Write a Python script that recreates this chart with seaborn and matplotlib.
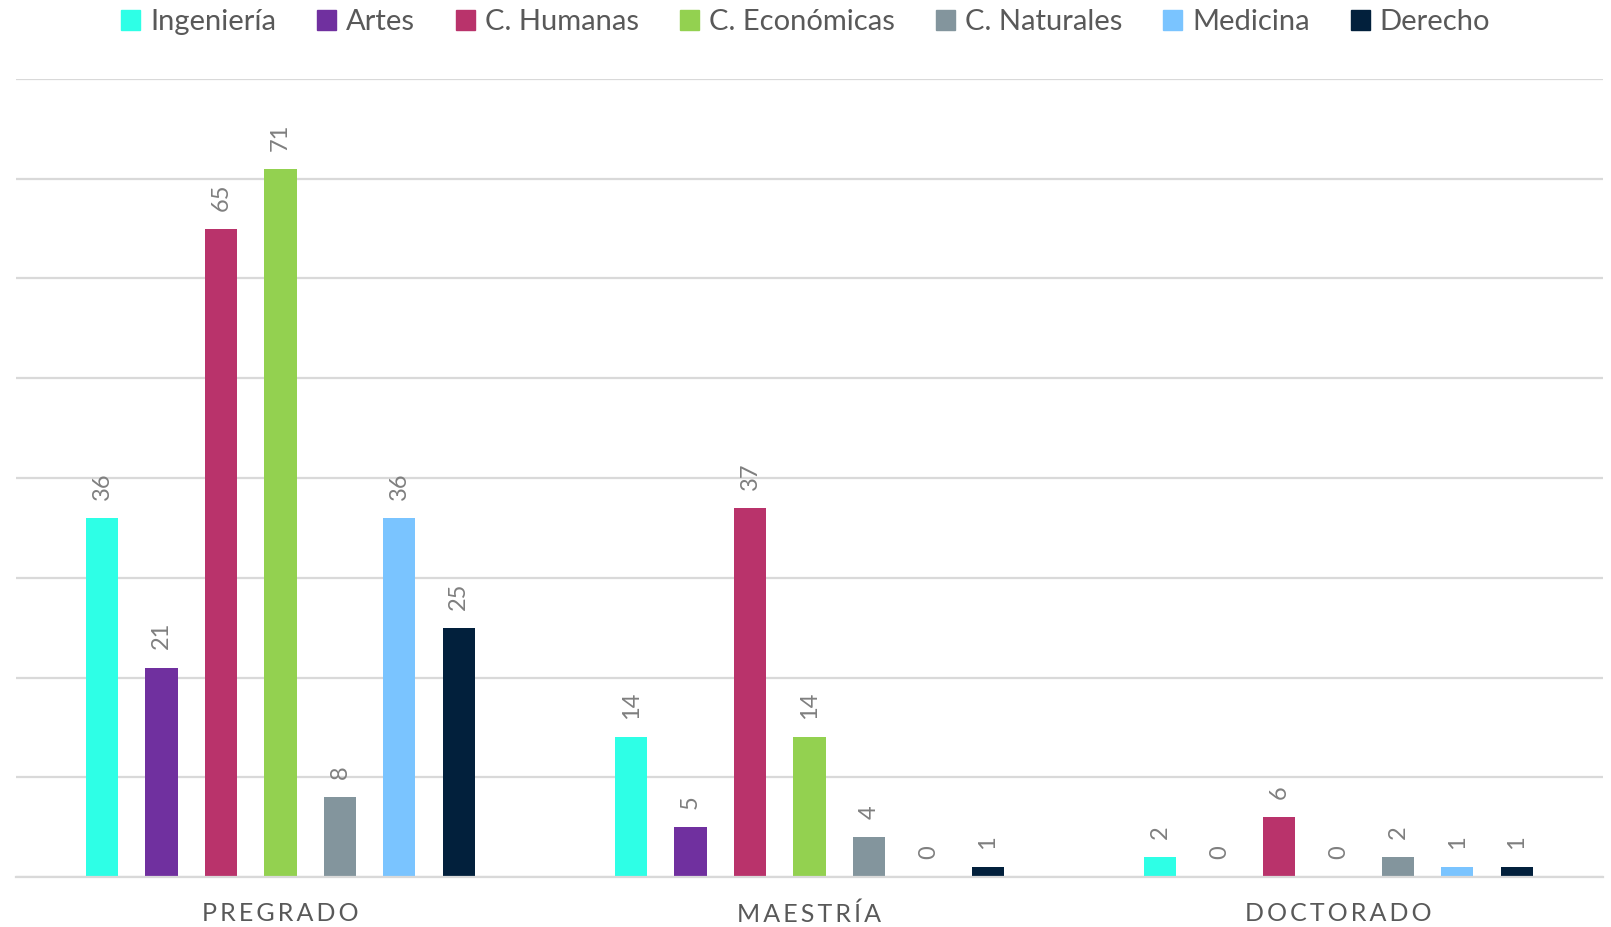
import numpy as np
import pandas as pd
import matplotlib
matplotlib.use("Agg")
import matplotlib.pyplot as plt
import seaborn as sns

# data
niveles = ["PREGRADO", "MAESTRÍA", "DOCTORADO"]
facultades = ["Ingeniería", "Artes", "C. Humanas", "C. Económicas",
              "C. Naturales", "Medicina", "Derecho"]
ingenieria = [36, 14, 2]
artes = [21, 5, 0]
humanas = [65, 37, 6]
economicas = [71, 14, 0]
naturales = [8, 4, 2]
medicina = [36, 0, 1]
derecho = [25, 1, 1]
colores = ["#2EFFE6", "#70309F", "#B9336B", "#93D150",
           "#83959D", "#7AC4FF", "#02203C"]

series = [ingenieria, artes, humanas, economicas, naturales, medicina, derecho]
rows = []
for fac, vals in zip(facultades, series):
    for niv, v in zip(niveles, vals):
        rows.append({"Nivel": niv, "Facultad": fac, "Valor": v})
df = pd.DataFrame(rows)

sns.set_theme(style="white")
plt.rcParams['font.family'] = ['Lato', 'DejaVu Sans']

fig = plt.figure(figsize=(16.11, 9.27), dpi=100)
ax = fig.add_axes([0.0099, 0.0539, 0.9851, 0.8609])

sns.barplot(data=df, x="Nivel", y="Valor", hue="Facultad",
            order=niveles, hue_order=facultades, palette=colores,
            width=0.787, gap=0.46, linewidth=0, saturation=1,
            errorbar=None, ax=ax)

# value labels above each bar, rotated
for cont in ax.containers:
    ax.bar_label(cont, fmt="%d", rotation=90, padding=13,
                 fontsize=17, color="#7F7F7F")

ax.set_ylim(0, 80)
ax.set_xlim(-0.5, 2.5)
ax.set_yticks(np.arange(0, 81, 10))
ax.set_yticklabels([])
ax.yaxis.grid(True, color="#D9D9D9", linewidth=1.6)
ax.set_axisbelow(True)
for s in ["left", "right", "top"]:
    ax.spines[s].set_visible(False)
ax.spines["bottom"].set_color("#D9D9D9")
ax.spines["bottom"].set_linewidth(1.6)
ax.tick_params(axis="y", length=0)
ax.tick_params(axis="x", length=0, pad=18)

# spaced-out category names
ax.set_xticks(range(len(niveles)))
ax.set_xticklabels(["\u2009".join(n) for n in niveles], fontsize=18, color="#595959")
ax.set_xlabel("")
ax.set_ylabel("")

ax.legend_.remove()
handles = [plt.Rectangle((0, 0), 1, 1, color=c) for c in colores]
fig.legend(handles, facultades, loc="center", bbox_to_anchor=(0.5, 0.976),
           ncol=7, frameon=False, fontsize=21, labelcolor="#595959",
           handlelength=0.65, handleheight=0.65, handletextpad=0.35,
           columnspacing=1.4)

fig.savefig("out.png", dpi=100)
